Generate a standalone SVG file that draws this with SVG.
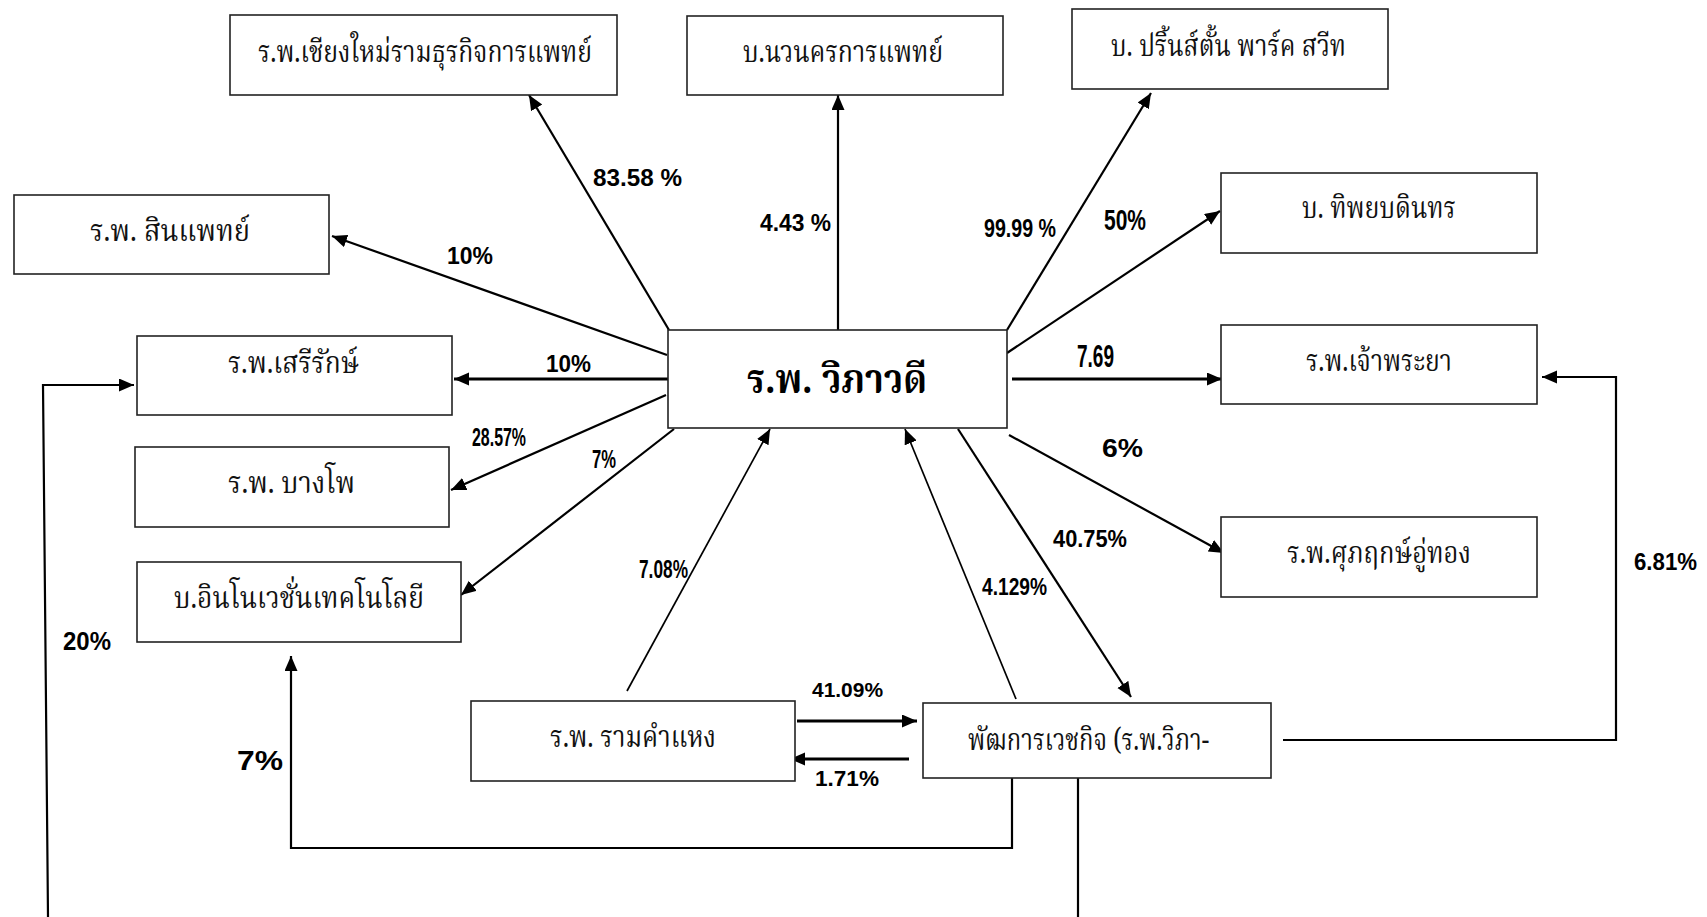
<svg xmlns="http://www.w3.org/2000/svg" width="1707" height="917" viewBox="0 0 1707 917">
<style>
.box{fill:#fff;stroke:#222;stroke-width:1.6}
.th{font-family:"Noto Serif Thai","Noto Sans Thai","Noto Sans","DejaVu Sans",serif;font-size:30px;fill:#111}
.thc{font-family:"Noto Serif Thai","Noto Sans Thai","Noto Sans","DejaVu Sans",serif;font-size:40px;font-weight:bold;fill:#000}
.pc{font-family:"Liberation Sans",Arial,sans-serif;font-weight:bold;font-size:24px;fill:#000}
.ln{fill:none;stroke:#000;stroke-width:2.2}
.lt{fill:none;stroke:#000;stroke-width:1.7}
.lk{fill:none;stroke:#000;stroke-width:3}
</style>
<defs>
<marker id="ah" markerUnits="userSpaceOnUse" markerWidth="16" markerHeight="14" refX="15" refY="6.5" orient="auto">
<path d="M0,0 L15,6.5 L0,13 z" fill="#000"/>
</marker>
</defs>
<rect width="1707" height="917" fill="#fff"/>
<g id="connectors">
<line class="ln" x1="669" y1="330" x2="529" y2="95" marker-end="url(#ah)"/>
<line class="ln" x1="838" y1="331" x2="838" y2="95" marker-end="url(#ah)"/>
<line class="ln" x1="667" y1="355" x2="332" y2="236" marker-end="url(#ah)"/>
<line class="lk" x1="668" y1="379" x2="454" y2="379" marker-end="url(#ah)"/>
<line class="ln" x1="666" y1="395" x2="451" y2="490" marker-end="url(#ah)"/>
<line class="ln" x1="674" y1="429" x2="461" y2="595" marker-end="url(#ah)"/>
<line class="lt" x1="627" y1="691" x2="770" y2="429" marker-end="url(#ah)"/>
<line class="lt" x1="1016" y1="699" x2="905" y2="429" marker-end="url(#ah)"/>
<line class="ln" x1="958" y1="429" x2="1131" y2="697" marker-end="url(#ah)"/>
<line class="ln" x1="1009" y1="435" x2="1224" y2="553" marker-end="url(#ah)"/>
<line class="ln" x1="1007" y1="353" x2="1220" y2="211" marker-end="url(#ah)"/>
<line class="ln" x1="1007" y1="330" x2="1151" y2="93" marker-end="url(#ah)"/>
<line class="lk" x1="1012" y1="379" x2="1222" y2="379" marker-end="url(#ah)"/>
<line class="lk" x1="797" y1="721" x2="917" y2="721" marker-end="url(#ah)"/>
<line class="lk" x1="909" y1="759" x2="790" y2="759" marker-end="url(#ah)"/>
<polyline class="ln" points="1012,778 1012,848 291,848 291,656" marker-end="url(#ah)"/>
<polyline class="ln" points="1283,740 1616,740 1616,377 1542,377" marker-end="url(#ah)"/>
<line class="ln" x1="1078" y1="778" x2="1078" y2="917"/>
<polyline class="ln" points="48,917 43,385 134,385" marker-end="url(#ah)"/>
</g>
<g id="labels">
<text class="pc" x="593" y="186" textLength="89" lengthAdjust="spacingAndGlyphs">83.58 %</text>
<text class="pc" x="760" y="231" textLength="71" lengthAdjust="spacingAndGlyphs">4.43 %</text>
<text class="pc" x="447" y="264" textLength="46" lengthAdjust="spacingAndGlyphs">10%</text>
<text class="pc" x="546" y="372" textLength="45" lengthAdjust="spacingAndGlyphs">10%</text>
<text class="pc" x="472" y="446" style="font-size:25px" textLength="54" lengthAdjust="spacingAndGlyphs">28.57%</text>
<text class="pc" x="592" y="468" style="font-size:25px" textLength="24" lengthAdjust="spacingAndGlyphs">7%</text>
<text class="pc" x="639" y="578" style="font-size:26px" textLength="49" lengthAdjust="spacingAndGlyphs">7.08%</text>
<text class="pc" x="984" y="237" style="font-size:25px" textLength="72" lengthAdjust="spacingAndGlyphs">99.99 %</text>
<text class="pc" x="1104" y="230" style="font-size:29px" textLength="42" lengthAdjust="spacingAndGlyphs">50%</text>
<text class="pc" x="1077" y="367" style="font-size:31px" textLength="37" lengthAdjust="spacingAndGlyphs">7.69</text>
<text class="pc" x="1102" y="457" style="font-size:26px" textLength="41" lengthAdjust="spacingAndGlyphs">6%</text>
<text class="pc" x="1053" y="547" textLength="74" lengthAdjust="spacingAndGlyphs">40.75%</text>
<text class="pc" x="982" y="595" style="font-size:24px" textLength="65" lengthAdjust="spacingAndGlyphs">4.129%</text>
<text class="pc" x="812" y="697" style="font-size:21px" textLength="71" lengthAdjust="spacingAndGlyphs">41.09%</text>
<text class="pc" x="815" y="786" style="font-size:22px" textLength="64" lengthAdjust="spacingAndGlyphs">1.71%</text>
<text class="pc" x="237" y="770" style="font-size:27px" textLength="46" lengthAdjust="spacingAndGlyphs">7%</text>
<text class="pc" x="63" y="650" style="font-size:26px" textLength="48" lengthAdjust="spacingAndGlyphs">20%</text>
<text class="pc" x="1634" y="570" textLength="63" lengthAdjust="spacingAndGlyphs">6.81%</text>
</g>
<g id="n-chiangmai"><rect class="box" x="230" y="15" width="387" height="80"/><text class="th" x="258" y="62" textLength="334" lengthAdjust="spacingAndGlyphs">ร.พ.เชียงใหม่รามธุรกิจการแพทย์</text></g>
<g id="n-nawanakorn"><rect class="box" x="687" y="16" width="316" height="79"/><text class="th" x="743" y="62" textLength="200" lengthAdjust="spacingAndGlyphs">บ.นวนครการแพทย์</text></g>
<g id="n-princeton"><rect class="box" x="1072" y="9" width="316" height="80"/><text class="th" x="1111" y="56" textLength="235" lengthAdjust="spacingAndGlyphs">บ. ปริ้นส์ตั้น พาร์ค สวีท</text></g>
<g id="n-sinphaet"><rect class="box" x="14" y="195" width="315" height="79"/><text class="th" x="90" y="241" textLength="160" lengthAdjust="spacingAndGlyphs">ร.พ. สินแพทย์</text></g>
<g id="n-thiphaya"><rect class="box" x="1221" y="173" width="316" height="80"/><text class="th" x="1302" y="218" textLength="154" lengthAdjust="spacingAndGlyphs">บ. ทิพยบดินทร</text></g>
<g id="n-center"><rect class="box" x="668" y="330" width="339" height="98"/><text class="thc" x="747" y="393" textLength="180" lengthAdjust="spacingAndGlyphs">ร.พ. วิภาวดี</text></g>
<g id="n-serirak"><rect class="box" x="137" y="336" width="315" height="79"/><text class="th" x="228" y="373" textLength="131" lengthAdjust="spacingAndGlyphs">ร.พ.เสรีรักษ์</text></g>
<g id="n-chaophraya"><rect class="box" x="1221" y="325" width="316" height="79"/><text class="th" x="1306" y="371" textLength="146" lengthAdjust="spacingAndGlyphs">ร.พ.เจ้าพระยา</text></g>
<g id="n-bangpho"><rect class="box" x="135" y="447" width="314" height="80"/><text class="th" x="228" y="493" textLength="127" lengthAdjust="spacingAndGlyphs">ร.พ. บางโพ</text></g>
<g id="n-suphalerk"><rect class="box" x="1221" y="517" width="316" height="80"/><text class="th" x="1287" y="563" textLength="184" lengthAdjust="spacingAndGlyphs">ร.พ.ศุภฤกษ์อู่ทอง</text></g>
<g id="n-innovation"><rect class="box" x="137" y="562" width="324" height="80"/><text class="th" x="174" y="608" textLength="250" lengthAdjust="spacingAndGlyphs">บ.อินโนเวชั่นเทคโนโลยี</text></g>
<g id="n-ramkhamhaeng"><rect class="box" x="471" y="701" width="324" height="80"/><text class="th" x="550" y="747" textLength="166" lengthAdjust="spacingAndGlyphs">ร.พ. รามคำแหง</text></g>
<g id="n-phatthana"><rect class="box" x="923" y="703" width="348" height="75"/><text class="th" x="968" y="750" textLength="241" lengthAdjust="spacingAndGlyphs">พัฒการเวชกิจ (ร.พ.วิภา-</text></g>
</svg>
